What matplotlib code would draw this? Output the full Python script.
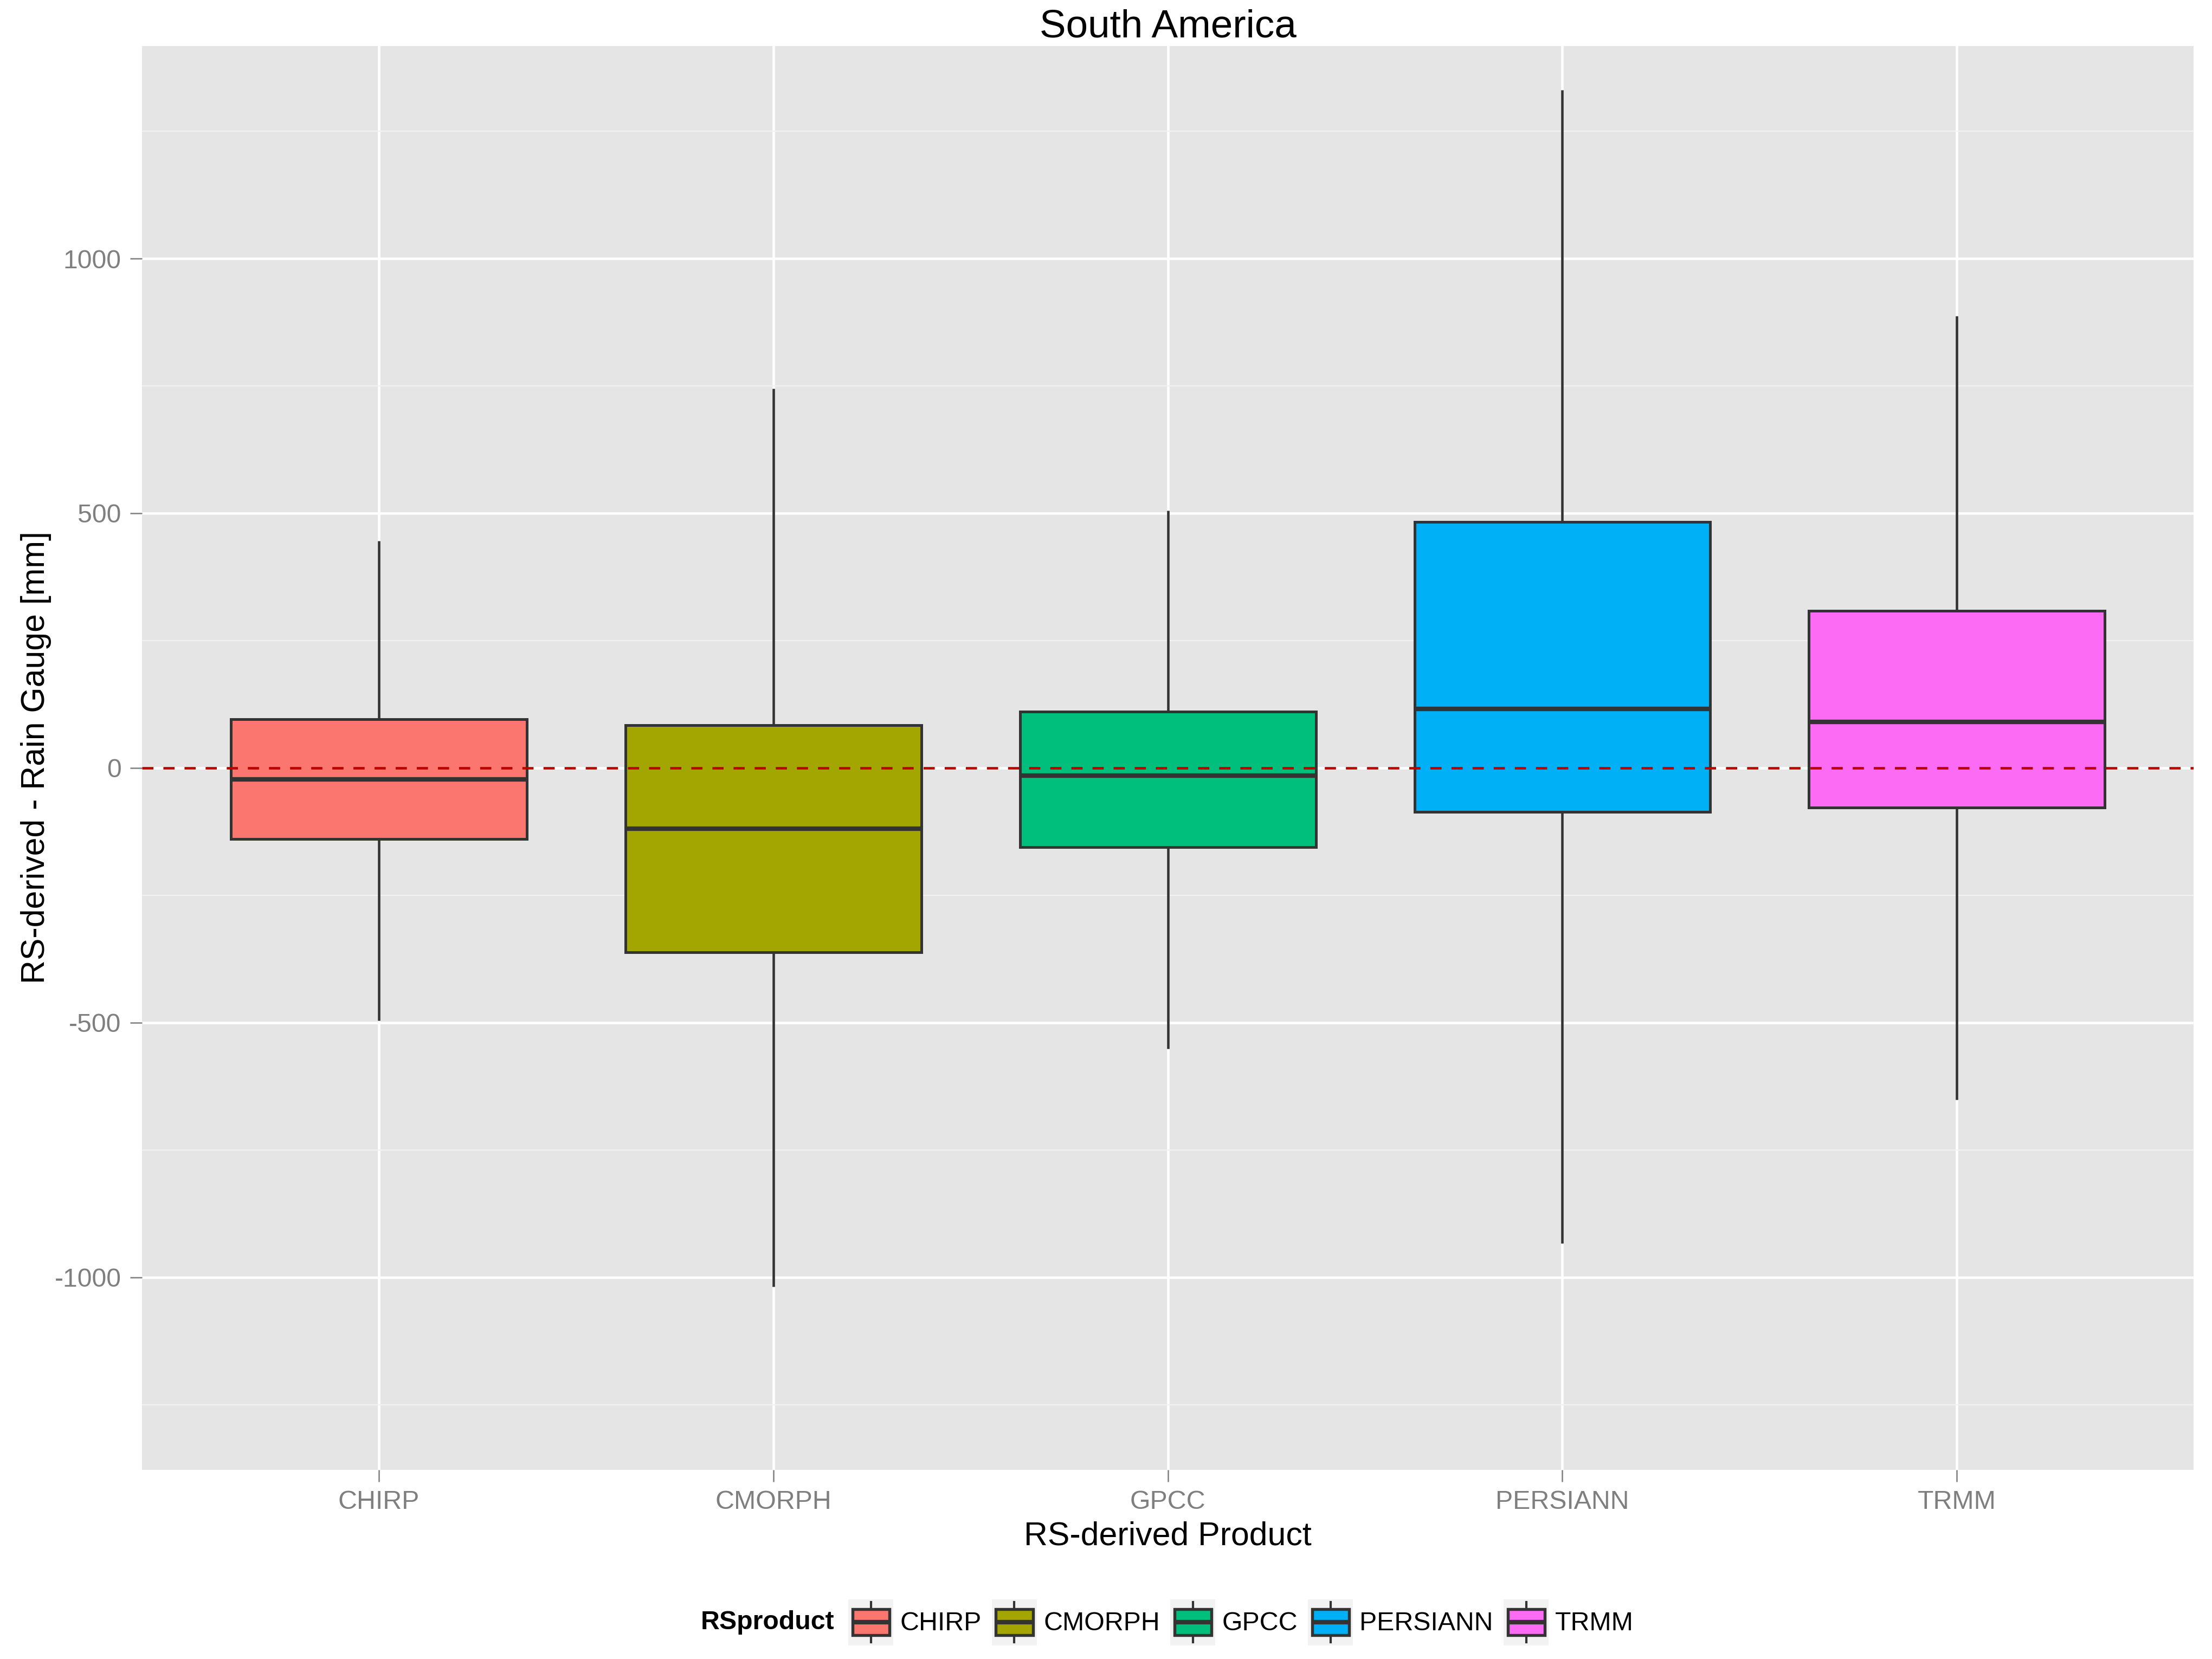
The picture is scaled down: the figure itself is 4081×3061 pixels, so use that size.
import matplotlib
matplotlib.use("Agg")
import matplotlib.pyplot as plt
from matplotlib.patches import Rectangle, Patch
from matplotlib.lines import Line2D
from matplotlib.legend_handler import HandlerBase

plt.rcParams['font.family'] = ['Liberation Sans', 'DejaVu Sans']
plt.rcParams['axes.unicode_minus'] = False

# ---- data ----
products = ["CHIRP", "CMORPH", "GPCC", "PERSIANN", "TRMM"]
whisker_low = [-496, -1018, -551, -933, -651]
q1_values = [-140, -362, -155, -86, -78]
median_values = [-22, -119, -15, 116, 90]
q3_values = [96, 84, 111, 483, 308]
whisker_high = [446, 745, 505, 1331, 887]
fill_colors = ["#FA766E", "#A3A500", "#00BF7D", "#00B0F6", "#FB6BF4"]
y_ticks = [-1000, -500, 0, 500, 1000]
y_minor = [-1250, -750, -250, 250, 750, 1250]

EDGE = "#333333"
fig = plt.figure(figsize=(4081 / 300, 3061 / 300), dpi=300)
ax = fig.add_axes([0.0642, 0.1140, 0.9275, 0.8582])
ax.set_facecolor("#E5E5E5")
for s in ax.spines.values():
    s.set_visible(False)

stats = []
for name, lo, a, m, b, hi in zip(products, whisker_low, q1_values, median_values, q3_values, whisker_high):
    stats.append(dict(label=name, whislo=lo, q1=a, med=m, q3=b, whishi=hi, fliers=[]))

positions = list(range(1, len(products) + 1))
bp = ax.bxp(stats, positions=positions, widths=0.75, patch_artist=True,
            showcaps=False, showfliers=False,
            boxprops=dict(edgecolor=EDGE, linewidth=1.2),
            medianprops=dict(color=EDGE, linewidth=2.0, solid_capstyle="butt"),
            whiskerprops=dict(color=EDGE, linewidth=1.1, solid_capstyle="butt"),
            zorder=3)
for patch, col in zip(bp["boxes"], fill_colors):
    patch.set_facecolor(col)

ax.axhline(0, color="#BB0000", linewidth=1.1, linestyle=(0, (4.5, 4)), zorder=6)

ax.set_xlim(0.4, 5.6)
ax.set_ylim(-1378, 1417)
ax.set_xticks(positions)
ax.set_xticklabels(products)
ax.set_yticks(y_ticks)
ax.set_yticklabels([str(v) for v in y_ticks])
ax.set_yticks(y_minor, minor=True)
ax.set_axisbelow(True)
ax.grid(which="major", color="white", linewidth=1.1)
ax.grid(which="minor", axis="y", color="#F2F2F2", linewidth=0.5)
ax.tick_params(axis="both", which="major", length=5.2, width=0.6, color="#7F7F7F",
               labelcolor="#7F7F7F", labelsize=11.6)
ax.tick_params(axis="y", which="major", pad=4.0)
ax.tick_params(axis="x", which="major", pad=3.6)
ax.tick_params(which="minor", length=0)

# titles
fig.text(0.528, 0.9775, "South America", ha="center", va="baseline", fontsize=17.5, color="black")
fig.text(0.528, 0.0689, "RS-derived Product", ha="center", va="baseline", fontsize=14.6, color="black")
fig.text(0.0164, 0.5433, "RS-derived - Rain Gauge [mm]", ha="center", va="center",
         rotation=90, fontsize=14.6, color="black")


class BoxKeyHandler(HandlerBase):
    def create_artists(self, legend, orig_handle, xdescent, ydescent, width, height, fontsize, trans):
        x0, y0 = -xdescent, -ydescent
        bg = Rectangle((x0, y0), width, height, facecolor="#F2F2F2", edgecolor="none", transform=trans)
        xm = x0 + width / 2
        w1 = Line2D([xm, xm], [y0 + 0.06 * height, y0 + 0.22 * height], color=EDGE, lw=1.0, transform=trans)
        w2 = Line2D([xm, xm], [y0 + 0.78 * height, y0 + 0.94 * height], color=EDGE, lw=1.0, transform=trans)
        box = Rectangle((x0 + 0.09 * width, y0 + 0.22 * height), 0.82 * width, 0.56 * height,
                        facecolor=orig_handle.get_facecolor(), edgecolor=EDGE, lw=1.3, transform=trans)
        med = Line2D([x0 + 0.09 * width, x0 + 0.91 * width], [y0 + 0.5 * height] * 2,
                     color=EDGE, lw=2.0, solid_capstyle="butt", transform=trans)
        return [bg, w1, w2, box, med]


handles = [Patch(facecolor=c) for c in fill_colors]
leg = fig.legend(handles, products, loc="center left", bbox_to_anchor=(0.3835, 0.0222),
                 ncol=len(products), frameon=False, fontsize=11.6,
                 handler_map={Patch: BoxKeyHandler()},
                 handlelength=1.72, handleheight=2.33, handletextpad=0.25,
                 columnspacing=0.40, borderpad=0, borderaxespad=0)
fig.text(0.3771, 0.0222, "RSproduct", ha="right", va="center", fontsize=11.6, fontweight="bold")

fig.savefig("out.png", dpi=300)
